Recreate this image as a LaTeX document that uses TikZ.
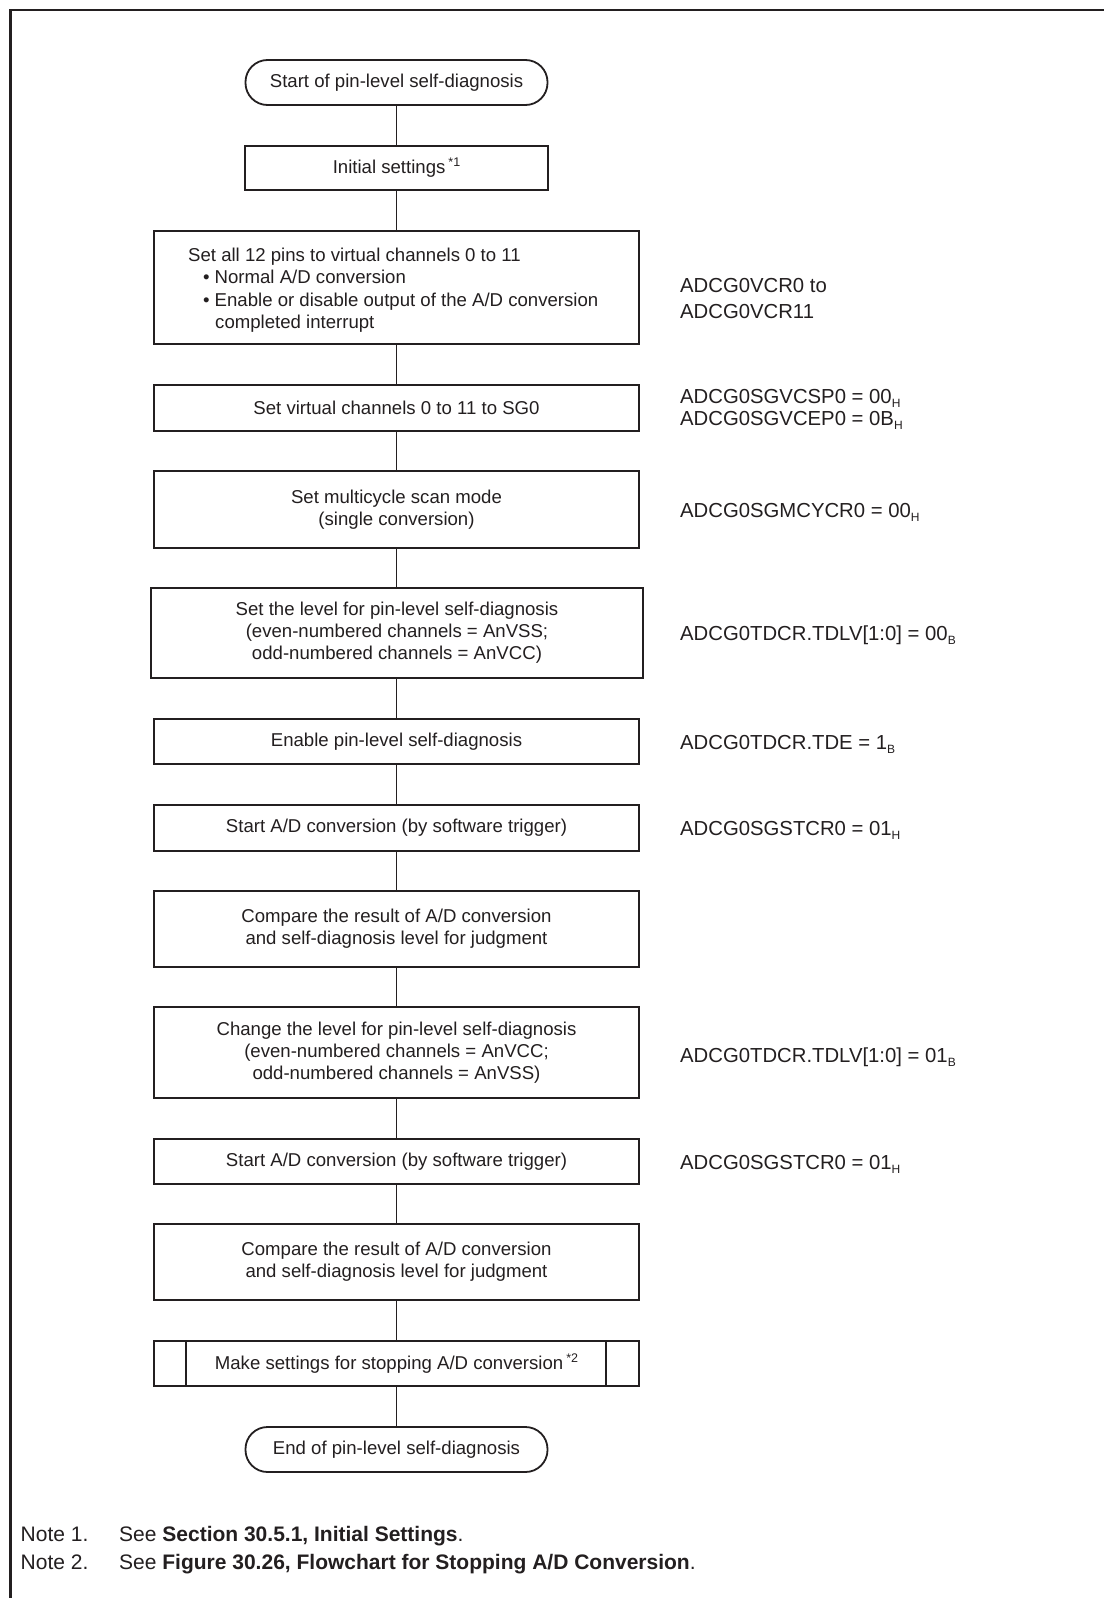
\documentclass[tikz,border=0pt]{standalone}
\usepackage{fontspec}
\setmainfont{Liberation Sans}
\definecolor{ink}{HTML}{231F20}
\newcommand\bxfont{\fontsize{18.6}{22}\selectfont}
\newcommand\rgfont{\fontsize{20.3}{26}\selectfont}
\newcommand\ntfont{\fontsize{21}{28}\selectfont}
\newcommand\subx[1]{\raisebox{-4.5pt}{\fontsize{12}{12}\selectfont #1}}
\newcommand\supx[1]{\hspace{3pt}\raisebox{7pt}{\fontsize{12.5}{12.5}\selectfont #1}}
\tikzset{
  term/.style={draw=ink, line width=1.8pt, rounded corners=22pt, minimum width=302pt, minimum height=45pt, inner sep=0pt, font=\bxfont, text=ink},
  proc/.style={draw=ink, line width=1.8pt, minimum width=485pt, inner sep=0pt, font=\bxfont, align=center, text=ink},
  conn/.style={draw=ink, line width=1pt},
  btxt/.style={anchor=base west, inner sep=0pt, font=\bxfont, text=ink},
  reg/.style={anchor=base west, inner sep=0pt, font=\rgfont, text=ink},
  note/.style={anchor=base west, inner sep=0pt, font=\ntfont, text=ink}
}
\begin{document}
\begin{tikzpicture}[x=1pt, y=-1pt]
\fill[white] (0,0) rectangle (1103,1598);
\useasboundingbox (0,0) rectangle (1103,1598);
\draw[ink, line width=2.2pt] (10.5,1610) -- (10.5,10) -- (1115,10);

% flow nodes
\node[term] (start) at (396.5,82.5) {Start of pin-level self-diagnosis};
\node[proc, minimum width=303pt, minimum height=44pt] (init) at (396.5,168) {Initial settings\supx{*1}};
\node[proc, minimum height=113pt] (setall) at (396.5,287.5) {};
\node[btxt] (setall1) at (188,261) {Set all 12 pins to virtual channels 0 to 11};
\node[btxt] (setall2) at (203,283) {•\hspace{5pt}Normal A/D conversion};
\node[btxt] (setall3) at (203,306) {•\hspace{5pt}Enable or disable output of the A/D conversion};
\node[btxt] (setall4) at (215,328) {completed interrupt};
\node[proc, minimum height=46pt] (sg0) at (396.5,408) {Set virtual channels 0 to 11 to SG0};
\node[proc, minimum height=77pt] (multi) at (396.5,509.5) {Set multicycle scan mode\\(single conversion)};
\node[proc, minimum width=492pt, minimum height=90pt] (level) at (397,633) {Set the level for pin-level self-diagnosis\\(even-numbered channels = AnVSS;\\odd-numbered channels = AnVCC)};
\node[proc, minimum height=45pt] (enable) at (396.5,741.5) {Enable pin-level self-diagnosis};
\node[proc, minimum height=46pt] (sad1) at (396.5,828) {Start A/D conversion (by software trigger)};
\node[proc, minimum height=76pt] (cmp1) at (396.5,929) {Compare the result of A/D conversion\\and self-diagnosis level for judgment};
\node[proc, minimum height=91pt] (chg) at (396.5,1052.5) {Change the level for pin-level self-diagnosis\\(even-numbered channels = AnVCC;\\odd-numbered channels = AnVSS)};
\node[proc, minimum height=45pt] (sad2) at (396.5,1161.5) {Start A/D conversion (by software trigger)};
\node[proc, minimum height=76pt] (cmp2) at (396.5,1262) {Compare the result of A/D conversion\\and self-diagnosis level for judgment};
\node[proc, minimum height=45pt] (make) at (396.5,1363.5) {Make settings for stopping A/D conversion\supx{*2}};
\draw[ink, line width=1.8pt] ([xshift=33pt]make.north west) -- ([xshift=33pt]make.south west);
\draw[ink, line width=1.8pt] ([xshift=-34pt]make.north east) -- ([xshift=-34pt]make.south east);
\node[term] (finish) at (396.5,1449.5) {End of pin-level self-diagnosis};

% connectors
\draw[conn] (start) -- (init);
\draw[conn] (init) -- (setall);
\draw[conn] (setall) -- (sg0);
\draw[conn] (sg0) -- (multi);
\draw[conn] (multi) -- (level.north -| multi.south);
\draw[conn] (level.south -| enable.north) -- (enable);
\draw[conn] (enable) -- (sad1);
\draw[conn] (sad1) -- (cmp1);
\draw[conn] (cmp1) -- (chg);
\draw[conn] (chg) -- (sad2);
\draw[conn] (sad2) -- (cmp2);
\draw[conn] (cmp2) -- (make);
\draw[conn] (make) -- (finish);

% register labels
\node[reg] (r1a) at (680,292) {ADCG0VCR0 to};
\node[reg] (r1b) at (680,318) {ADCG0VCR11};
\node[reg] (r2a) at (680,403) {ADCG0SGVCSP0 = 00\subx{H}};
\node[reg] (r2b) at (680,425) {ADCG0SGVCEP0 = 0B\subx{H}};
\node[reg] (r3) at (680,517) {ADCG0SGMCYCR0 = 00\subx{H}};
\node[reg] (r4) at (680,640) {ADCG0TDCR.TDLV[1:0] = 00\subx{B}};
\node[reg] (r5) at (680,749) {ADCG0TDCR.TDE = 1\subx{B}};
\node[reg] (r6) at (680,835) {ADCG0SGSTCR0 = 01\subx{H}};
\node[reg] (r7) at (680,1062) {ADCG0TDCR.TDLV[1:0] = 01\subx{B}};
\node[reg] (r8) at (680,1169) {ADCG0SGSTCR0 = 01\subx{H}};

% notes
\node[note] (n1a) at (20.5,1541) {Note 1.};
\node[note] (n1b) at (119,1541) {See \textbf{Section 30.5.1, Initial Settings}.};
\node[note] (n2a) at (20.5,1569) {Note 2.};
\node[note] (n2b) at (119,1569) {See \textbf{Figure 30.26, Flowchart for Stopping A/D Conversion}.};
\end{tikzpicture}
\end{document}
